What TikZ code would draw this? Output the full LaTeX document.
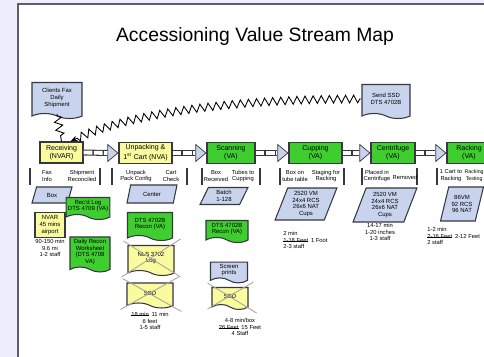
\documentclass[tikz,border=0pt]{standalone}
\usepackage{fontspec}
\setmainfont{Liberation Sans}
\usetikzlibrary{positioning,shapes.geometric,shapes.symbols,decorations.pathmorphing,arrows.meta}

\definecolor{bgLav}{RGB}{238,238,252}
\definecolor{vaGreen}{RGB}{62,206,46}
\definecolor{nvaYellow}{RGB}{250,250,158}
\definecolor{dataBlue}{RGB}{200,212,238}
\definecolor{edgeGray}{RGB}{55,55,65}

\def\px{0.02cm}
\newcommand{\strk}[1]{\setbox0\hbox{#1}\rlap{\rule[0.3ex]{\wd0}{0.3pt}}\box0}

\tikzset{
	proc/.style={rectangle, draw=edgeGray, line width=0.7pt, fill=vaGreen, minimum height=21*\px, inner sep=0pt, align=center, font=\fontsize{4}{4.4}\selectfont},
	nva/.style={proc, fill=nvaYellow},
	tri/.style={isosceles triangle, isosceles triangle apex angle=80, draw=edgeGray, line width=0.4pt, fill=dataBlue, inner sep=0pt, minimum height=10*\px},
	shaft/.style={line width=3.4pt, draw=edgeGray, postaction={draw=white, line width=2.2pt, dash pattern=on 5pt off 0.8pt}},
	doc/.style={tape, tape bend top=none, tape bend bottom=out and in, tape bend height=5*\px, draw=edgeGray, line width=0.6pt, inner sep=1pt, align=center, font=\fontsize{3.4}{3.9}\selectfont},
	gdoc/.style={doc, fill=vaGreen},
	ydoc/.style={doc, fill=nvaYellow},
	bdoc/.style={doc, fill=dataBlue},
	databox/.style={trapezium, trapezium left angle=70, trapezium right angle=110, trapezium stretches=true, draw=edgeGray, line width=0.6pt, fill=dataBlue, inner sep=0pt, align=center, font=\fontsize{3.4}{3.9}\selectfont},
	tlab/.style={align=center, inner sep=0pt, font=\fontsize{3.3}{3.9}\selectfont},
	tbar/.style={line width=0.8pt, draw=edgeGray},
	cross/.style={draw=gray!70, line width=0.5pt},
	zz/.style={decorate, decoration={zigzag, amplitude=2.2pt, segment length=4.6pt, pre length=1pt, post length=3pt}, line width=0.5pt},
}

\begin{document}
\begin{tikzpicture}[x=\px, y=-\px]
	
	\useasboundingbox (0,0) rectangle (484,357);
	\clip (0,0) rectangle (484,357);
	\fill[bgLav] (0,0) rectangle (484,357);
	\fill[white] (18,4) rectangle (490,360);
	\draw[edgeGray!80, line width=0.7pt] (18,360) -- (18,4) -- (490,4);
	
	\node (title) at (255,37) {\fontsize{11}{13}\selectfont Accessioning Value Stream Map};
	
	% process row
	\node[nva, minimum width=43*\px] (recv) at (61.5,152.5) {Receiving\\(NVAR)};
	\node[nva, minimum width=53*\px] (unpack) at (145.5,153) {Unpacking \&\\1\textsuperscript{st} Cart (NVA)};
	\node[proc, minimum width=48*\px] (scan) at (231,153) {Scanning\\(VA)};
	\node[proc, minimum width=53*\px] (cup) at (315.5,153) {Cupping\\(VA)};
	\node[proc, minimum width=44*\px] (cent) at (393,153) {Centrifuge\\(VA)};
	\node[proc, minimum width=44*\px] (rack) at (469,153) {Racking\\(VA)};
	
	% push arrows
	\node[tri, anchor=apex] (t1) at (unpack.west) {};
	\node[tri, anchor=apex] (t2) at (scan.west) {};
	\node[tri, anchor=apex] (t3) at (cup.west) {};
	\node[tri, anchor=apex] (t4) at (cent.west) {};
	\node[tri, anchor=apex] (t5) at (rack.west) {};
	\draw[shaft] (recv.east) -- (t1.west);
	\draw[shaft] (unpack.east) -- (t2.west);
	\draw[shaft] (scan.east) -- (t3.west);
	\draw[shaft] (cup.east) -- (t4.west);
	\draw[shaft] (cent.east) -- (t5.west);
	
	% information flow
	\node[bdoc, minimum width=50*\px, minimum height=36*\px] (client) at (57,98) {Clients Fax\\Daily\\Shipment};
	\node[bdoc, minimum width=48*\px, minimum height=34*\px] (ssd) at (386,99) {Send SSD\\DTS 4702B};
	\draw[zz] (client.south) -- (recv.north);
	\draw[zz, -{Stealth[length=4pt, width=3pt]}] (ssd.west) .. controls +(-130,0) and +(55,-28) .. ([xshift=9*\px]recv.north);
	
	% timeline
	\foreach \bx in {30,100,112,187,202,260,280,344,362,417,437}
		\draw[tbar] (\bx,168) -- (\bx,185);
	\node[tlab] (l1) at (47,176) {Fax\\Info};
	\node[tlab] (l2) at (82,176) {Shipment\\Reconciled};
	\node[tlab] (l3) at (136,176) {Unpack\\Pack Config};
	\node[tlab] (l4) at (171,176) {Cart\\Check};
	\node[tlab] (l5) at (216,176) {Box\\Received};
	\node[tlab] (l6) at (243,176) {Tubes to\\Cupping};
	\node[tlab] (l7) at (295,176) {Box on\\tube table};
	\node[tlab] (l8) at (326,176) {Staging for\\Racking};
	\node[tlab] (l9) at (377,176) {Placed in\\Centrifuge};
	\node[tlab] (l10) at (405,177) {Removed};
	\node[tlab] (l11) at (451,176) {1 Cart to\\Racking};
	\node[tlab, anchor=east, font=\fontsize{3}{3.9}\selectfont] (l12) at (484,176) {Racking\\Testing};
	
	% data boxes
	\node[databox, minimum width=40*\px, minimum height=16*\px] (dbox) at (52,195) {Box};
	\node[databox, minimum width=50*\px, minimum height=18*\px] (dcenter) at (152,194) {Center};
	\node[databox, minimum width=48*\px, minimum height=17*\px] (dbatch) at (224,196) {Batch\\1-128};
	\node[databox, minimum width=62*\px, minimum height=32*\px] (dcup) at (306,204) {2520 VM\\24x4 RCS\\26x6 NAT\\Cups};
	\node[databox, minimum width=64*\px, minimum height=34*\px] (dcent) at (385,205) {2520 VM\\24x4 RCS\\26x6 NAT\\Cups};
	\node[databox, minimum width=43*\px, minimum height=34*\px] (drack) at (462,204) {86VM\\92 RCS\\96 NAT};
	
	% receiving column
	\node[rectangle, draw=edgeGray, line width=0.6pt, fill=nvaYellow, minimum width=30*\px, minimum height=25*\px, inner sep=0pt, align=center, font=\fontsize{3.4}{3.9}\selectfont] (nvar) at (50,225) {NVAR\\45 mins\\airport};
	\node[tlab] (mrecv) at (50,248) {90-150 min\\9.6 mi\\1-2 staff};
	\node[gdoc, minimum width=34*\px, minimum height=22*\px] (reclog) at (88,206) {Rec'd Log\\DTS 4709 (VA)};
	\node[gdoc, minimum width=40*\px, minimum height=35*\px] (recon) at (90,252) {Daily Recon\\Worksheet\\(DTS 4708\\VA)};
	
	% unpacking column
	\node[gdoc, minimum width=45*\px, minimum height=28*\px] (unrecon) at (150,224) {DTS 4702B\\Recon (VA)};
	\node[ydoc, minimum width=46*\px, minimum height=30*\px] (nls) at (151,258) {NLS 3702\\Log};
	\node[ydoc, minimum width=46*\px, minimum height=25*\px] (unssd) at (150,293) {SSD};
	\draw[cross] ([shift={(-6,6)}]nls.south west) -- ([shift={(6,-6)}]nls.north east);
	\draw[cross] ([shift={(-4,-4)}]nls.north west) -- ([shift={(6,6)}]nls.south east);
	\draw[cross] ([shift={(-6,6)}]unssd.south west) -- ([shift={(6,-6)}]unssd.north east);
	\draw[cross] ([shift={(-4,-4)}]unssd.north west) -- ([shift={(8,8)}]unssd.south east);
	\node[tlab] (munpack) at (150,321) {\strk{18 min}\enspace 11 min\\6 feet\\1-5 staff};
	
	% scanning column
	\node[gdoc, minimum width=42*\px, minimum height=22*\px] (scrcon) at (227,229) {DTS 4702B\\Recon (VA)};
	\node[bdoc, minimum width=37*\px, minimum height=20*\px] (screen) at (229,270) {Screen\\prints};
	\node[ydoc, minimum width=36*\px, minimum height=22*\px] (scssd) at (230,296) {SSD};
	\draw[cross] ([shift={(-4,-4)}]scssd.north west) -- ([shift={(8,8)}]scssd.south east);
	\draw[cross] ([shift={(-4,4)}]scssd.south west) -- ([shift={(5,-5)}]scssd.north east);
	\node[tlab] (mscan) at (240,327) {4-8 min/box\\\strk{26 Feet}\enspace 15 Feet\\4 Staff};
	
	% metrics
	\node[tlab, anchor=west, align=left] (mcup) at (283,240) {2 min\\\strk{1-18 Feet}\enspace 1 Foot\\2-3 staff};
	\node[tlab] (mcent) at (380,232) {14-17 min\\1-20 inches\\1-3 staff};
	\node[tlab, anchor=west, align=left] (mrack) at (427,236) {1-2 min\\\strk{2-16 Feet}\enspace 2-12 Feet\\2 staff};
	
\end{tikzpicture}
\end{document}
